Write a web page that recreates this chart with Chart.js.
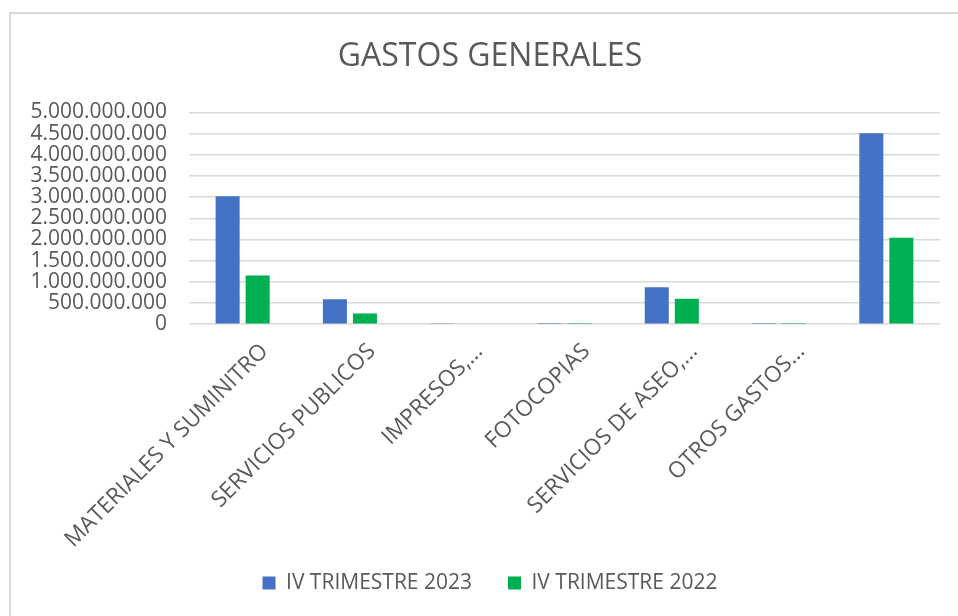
<!DOCTYPE html>
<html><head><meta charset="utf-8">
<script src="https://cdn.jsdelivr.net/npm/chart.js@4/dist/chart.umd.min.js"></script>
<style>
html,body{margin:0;padding:0;background:#fff;overflow:hidden;}
#wrap{position:relative;width:958px;height:616px;overflow:hidden;}
#frame{position:absolute;left:9px;top:12px;width:2000px;height:2000px;border-left:2px solid #d9d9d9;border-top:2px solid #d9d9d9;}
canvas{position:absolute;left:0;top:0;}
</style></head>
<body><div id="wrap"><div id="frame"></div><canvas id="c" width="970" height="616"></canvas></div>
<script>
const categories = ["MATERIALES Y SUMINITRO","SERVICIOS PUBLICOS","IMPRESOS,…","FOTOCOPIAS","SERVICIOS DE ASEO,…","OTROS GASTOS…",""];
const seriesNames = ["IV TRIMESTRE 2023","IV TRIMESTRE 2022"];
const values2023 = [3020000000, 590000000, 20000000, 3000000, 870000000, 6000000, 4510000000];
const values2022 = [1150000000, 250000000, 18000000, 6000000, 600000000, 6000000, 2040000000];
const yTicks = [0,500000000,1000000000,1500000000,2000000000,2500000000,3000000000,3500000000,4000000000,4500000000,5000000000];
const colors = ["#4472C4","#00B050"];
const titleText = "GASTOS GENERALES";

const FONT = "'Open Sans', 'Liberation Sans', sans-serif";
const TXT = "#595959";
function fmt(v){ return String(v).replace(/\B(?=(\d{3})+(?!\d))/g, "."); }

new Chart(document.getElementById('c'), {
  type: 'bar',
  data: {
    labels: categories,
    datasets: [
      {label: seriesNames[0], data: values2023, backgroundColor: colors[0], categoryPercentage: 0.56, barPercentage: 0.8},
      {label: seriesNames[1], data: values2022, backgroundColor: colors[1], categoryPercentage: 0.56, barPercentage: 0.8}
    ]
  },
  options: {
    responsive: false,
    animation: false,
    devicePixelRatio: 1,
    layout: {padding: {left: 10, right: 0, top: 38, bottom: 12.4}},
    plugins: {
      title: {display: true, text: titleText, color: TXT, font: {family: FONT, size: 32, weight: 'normal'}, padding: {top: 0, bottom: 36}},
      legend: {position: 'bottom', labels: {color: TXT, font: {family: FONT, size: 21}, boxWidth: 13, boxHeight: 13, padding: 36}},
      tooltip: {enabled: false}
    },
    scales: {
      x: {
        grid: {display: false},
        border: {display: false},
        ticks: {color: TXT, font: {family: FONT, size: 22.5}, maxRotation: 45, minRotation: 45, autoSkip: false, padding: 6, labelOffset: 22},
        afterFit: s => { s.height = 212.4; s._computeLabelArea = () => undefined; }
      },
      y: {
        min: 0, max: 5000000000,
        afterBuildTicks: s => { s.ticks = yTicks.map(v => ({value: v})); },
        grid: {color: "#d9d9d9", lineWidth: 1.5, drawTicks: false},
        border: {display: false},
        ticks: {color: TXT, font: {family: FONT, size: 21}, padding: 22, autoSkip: false, callback: v => fmt(v)},
        afterFit: s => { s.width = 179; }
      },
      yRight: {
        position: 'right',
        display: true,
        grid: {display: false, drawTicks: false},
        border: {display: false},
        ticks: {display: false},
        afterFit: s => { s.width = 30; }
      }
    }
  }
});
</script></body></html>
